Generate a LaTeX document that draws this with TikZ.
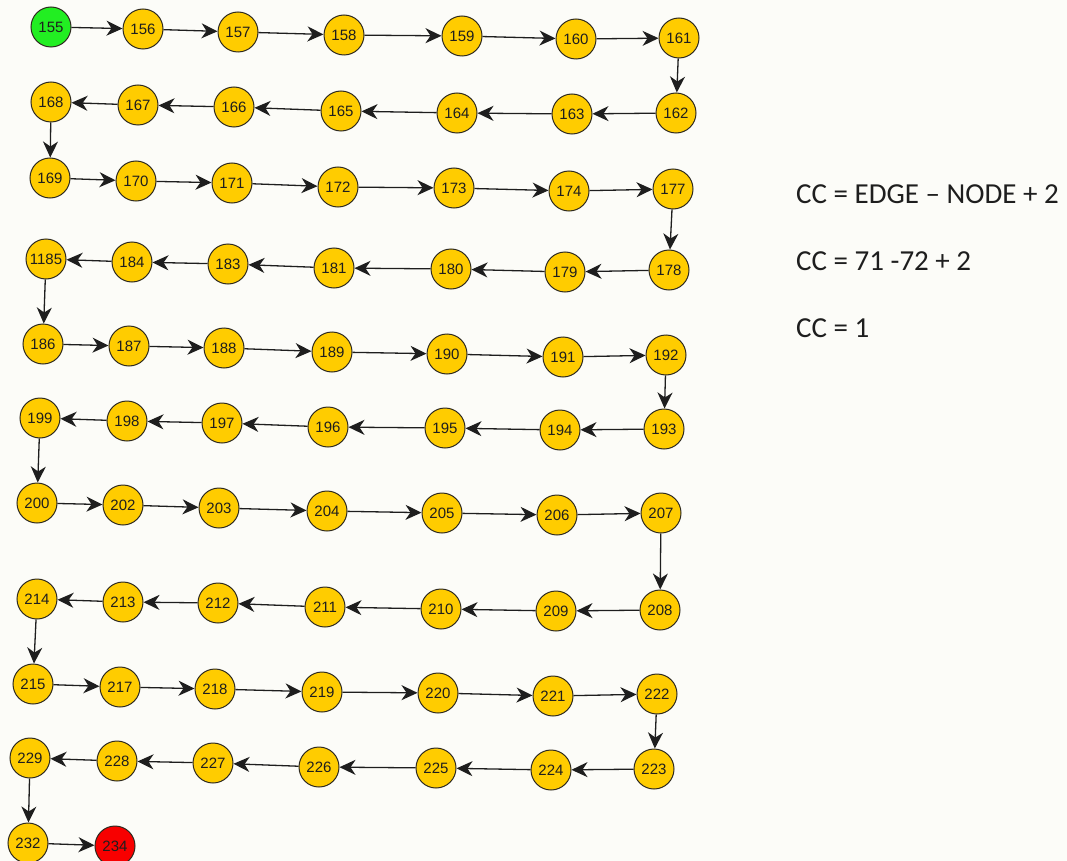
\documentclass[tikz,border=0pt]{standalone}
\usepackage{fontspec}
\setmainfont{Carlito}
\newfontfamily\nodefont{Liberation Sans}
\usepackage{xcolor}
\usetikzlibrary{arrows.meta}
\definecolor{Paper}{HTML}{FCFCF8}
\definecolor{Ink}{HTML}{1E1E1E}
\definecolor{Rim}{HTML}{2E2A20}
\definecolor{Gold}{HTML}{FFCC00}
\definecolor{Start}{HTML}{22EE22}
\definecolor{Stop}{HTML}{F80000}
\tikzset{
  vtx/.style={circle,draw=Rim,fill=Gold,line width=1pt,minimum size=40pt,inner sep=0pt,font=\nodefont\fontsize{15}{15}\selectfont,text=Ink},
  startvtx/.style={vtx,fill=Start},
  endvtx/.style={vtx,fill=Stop},
  edge/.style={-{Stealth[length=16pt,width=15pt,inset=5pt]},draw=Ink,line width=1.3pt},
  formula/.style={anchor=base west,inner sep=0pt,font=\fontsize{29}{29}\selectfont,text=Ink}
}
\begin{document}
\begin{tikzpicture}[x=1pt,y=-1pt]
  \fill[Paper] (0,0) rectangle (1067,861);
  \useasboundingbox (0,0) rectangle (1067,861);
  % flow graph nodes, row by row
  \foreach \lab/\x/\y in {
      156/143/29, 157/238/32, 158/344/35, 159/462/36, 160/576/39, 161/679/38,
      168/51/102, 167/138/105, 166/234/107, 165/341/111, 164/457/113, 163/572/114, 162/676/113,
      169/50/178, 170/136/181, 171/232/183, 172/338/187, 173/454/188, 174/569/191, 177/673/189,
      1185/46/259, 184/132/262, 183/228/264, 181/334/268, 180/451/269, 179/565/272, 178/669/270,
      186/43/344, 187/129/346, 188/224/348, 189/332/352, 190/447/354, 191/563/357, 192/666/355,
      199/40/418, 198/127/421, 197/222/423, 196/328/427, 195/445/428, 194/560/430, 193/664/429,
      200/37/503, 202/123/505, 203/219/508, 204/327/511, 205/442/513, 206/557/515, 207/661/513,
      214/37/599, 213/123/602, 212/218/603, 211/325/607, 210/441/609, 209/556/611, 208/660/610,
      215/33/684, 217/120/687, 218/215/689, 219/322/692, 220/438/693, 221/553/696, 222/657/694,
      229/30/758, 228/117/761, 227/213/763, 226/319/767, 225/436/768, 224/551/770, 223/654/769,
      232/28/843}
    \node[vtx] (n\lab) at (\x,\y) {\lab};
  \node[startvtx] (n155) at (51,27) {155};
  \node[endvtx] (n234) at (115,846) {234};
  % one path through all nodes
  \foreach \b [remember=\b as \a (initially 155)] in {156,157,158,159,160,161,162,163,164,165,166,167,168,
      169,170,171,172,173,174,177,178,179,180,181,183,184,1185,186,187,188,189,190,191,192,
      193,194,195,196,197,198,199,200,202,203,204,205,206,207,208,209,210,211,212,213,214,
      215,217,218,219,220,221,222,223,224,225,226,227,228,229,232,234}
    \draw[edge] (n\a) -- (n\b);
  % cyclomatic complexity
  \node[formula] (cc1) at (796,203) {CC = EDGE -- NODE + 2};
  \node[formula] (cc2) at (796,270) {CC = 71 -72 + 2};
  \node[formula] (cc3) at (796,337) {CC = 1};
\end{tikzpicture}
\end{document}
